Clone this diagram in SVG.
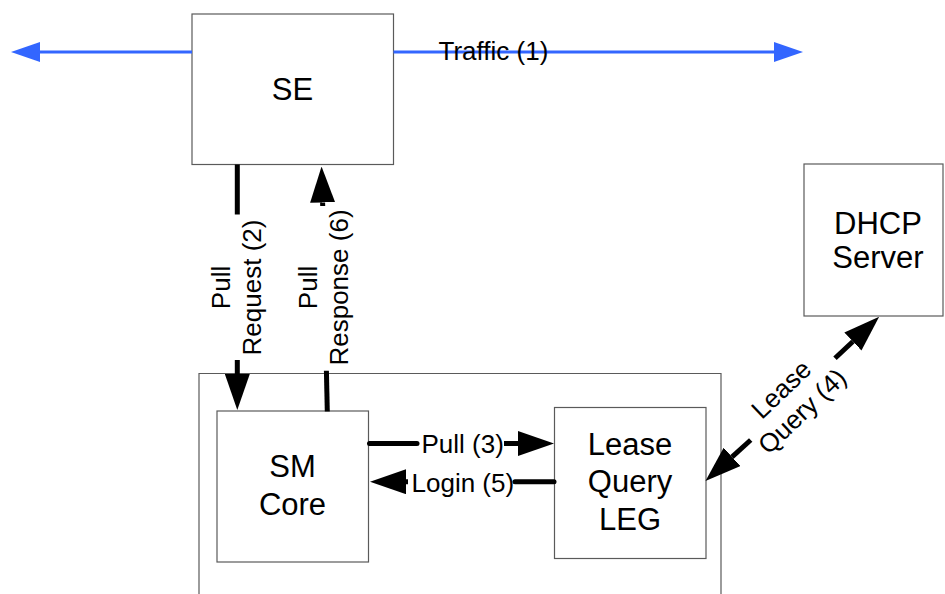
<svg xmlns="http://www.w3.org/2000/svg" width="945" height="594" viewBox="0 0 945 594">
  <style>
    .box { fill: #ffffff; stroke: #5a5a5a; stroke-width: 1.2; }
    .frame { fill: none; stroke: #5a5a5a; stroke-width: 1.2; }
    .node-label { font-family: "Liberation Sans", Arial, sans-serif; font-size: 31px; fill: #000; text-anchor: middle; }
    .edge-label { font-family: "Liberation Sans", Arial, sans-serif; font-size: 26px; fill: #000; }
    .mid { text-anchor: middle; }
    .wire { stroke: #000; stroke-width: 5; fill: none; }
    .wire-round { stroke: #000; stroke-width: 5; fill: none; stroke-linecap: round; }
    .traffic { stroke: #3366ff; stroke-width: 3.2; fill: none; }
  </style>
  <defs>
    <!-- solid head that starts at the end of the line and points forward -->
    <marker id="head" markerUnits="userSpaceOnUse" viewBox="0 0 36 25" refX="0" refY="12.5" markerWidth="36" markerHeight="25" orient="auto">
      <path d="M0,0 L36,12.5 L0,25 z" fill="#000"/>
    </marker>
    <marker id="blue-head" markerUnits="userSpaceOnUse" viewBox="0 0 29 20" refX="0" refY="10" markerWidth="29" markerHeight="20" orient="auto">
      <path d="M0,0 L29,10 L0,20 z" fill="#3366ff"/>
    </marker>
  </defs>

  <!-- container around SM Core and the Lease Query LEG (open at the bottom) -->
  <path class="frame" d="M199,600 L199,373.5 L721,373.5 L721,600"/>

  <g id="se">
    <rect class="box" x="192" y="14" width="201.5" height="150.5"/>
    <text class="node-label" x="292.5" y="99.5">SE</text>
  </g>

  <g id="dhcp-server">
    <rect class="box" x="804" y="164" width="139" height="152"/>
    <text class="node-label" x="878" y="233.5">DHCP</text>
    <text class="node-label" x="878" y="268">Server</text>
  </g>

  <g id="sm-core">
    <rect class="box" x="217" y="411" width="151.5" height="151"/>
    <text class="node-label" x="292.5" y="477">SM</text>
    <text class="node-label" x="292.5" y="514.5">Core</text>
  </g>

  <g id="lease-query-leg">
    <rect class="box" x="554.5" y="407.5" width="151.5" height="151"/>
    <text class="node-label" x="630" y="454.5">Lease</text>
    <text class="node-label" x="630" y="492">Query</text>
    <text class="node-label" x="630" y="530">LEG</text>
  </g>

  <g id="connectors">
    <!-- Traffic (1) -->
    <line class="traffic" x1="192" y1="52" x2="40" y2="52" marker-end="url(#blue-head)"/>
    <line class="traffic" x1="393.5" y1="52" x2="774" y2="52" marker-end="url(#blue-head)"/>
    <text class="edge-label" x="438.5" y="59.5">Traffic (1)</text>

    <!-- Pull Request (2) -->
    <line class="wire" x1="237.3" y1="164.5" x2="237.3" y2="214.5"/>
    <line class="wire" x1="237.3" y1="360" x2="237.3" y2="374" marker-end="url(#head)"/>
    <g transform="translate(230,287.5) rotate(-90)">
      <text class="edge-label mid" x="0" y="0">Pull</text>
      <text class="edge-label mid" x="0" y="30.7">Request (2)</text>
    </g>

    <!-- Pull Response (6) -->
    <line class="wire" x1="327.3" y1="411.5" x2="326.4" y2="370.7"/>
    <line class="wire" x1="322.7" y1="206" x2="322.6" y2="202.5" marker-end="url(#head)"/>
    <g transform="translate(317,287.5) rotate(-90)">
      <text class="edge-label mid" x="0" y="0">Pull</text>
      <text class="edge-label mid" x="0" y="31.3">Response (6)</text>
    </g>

    <!-- Pull (3) -->
    <line class="wire-round" x1="369.5" y1="443.5" x2="417" y2="443.5"/>
    <line class="wire" x1="504" y1="443.5" x2="518" y2="443.5" marker-end="url(#head)"/>
    <text class="edge-label" x="421.5" y="453">Pull (3)</text>

    <!-- Login (5) -->
    <line class="wire-round" x1="554" y1="481.7" x2="515" y2="481.7"/>
    <line class="wire" x1="408" y1="481.7" x2="406" y2="481.7" marker-end="url(#head)"/>
    <text class="edge-label" x="411.5" y="492">Login (5)</text>

    <!-- Lease Query (4) -->
    <line class="wire" x1="750.7" y1="440" x2="732.1" y2="456.9" marker-end="url(#head)"/>
    <line class="wire" x1="835" y1="358.3" x2="852.9" y2="341.5" marker-end="url(#head)"/>
    <g transform="translate(787.4,395.7) rotate(-43.6)">
      <text class="edge-label mid" x="0" y="0">Lease</text>
      <text class="edge-label mid" x="0" y="30.3">Query (4)</text>
    </g>
  </g>
</svg>
